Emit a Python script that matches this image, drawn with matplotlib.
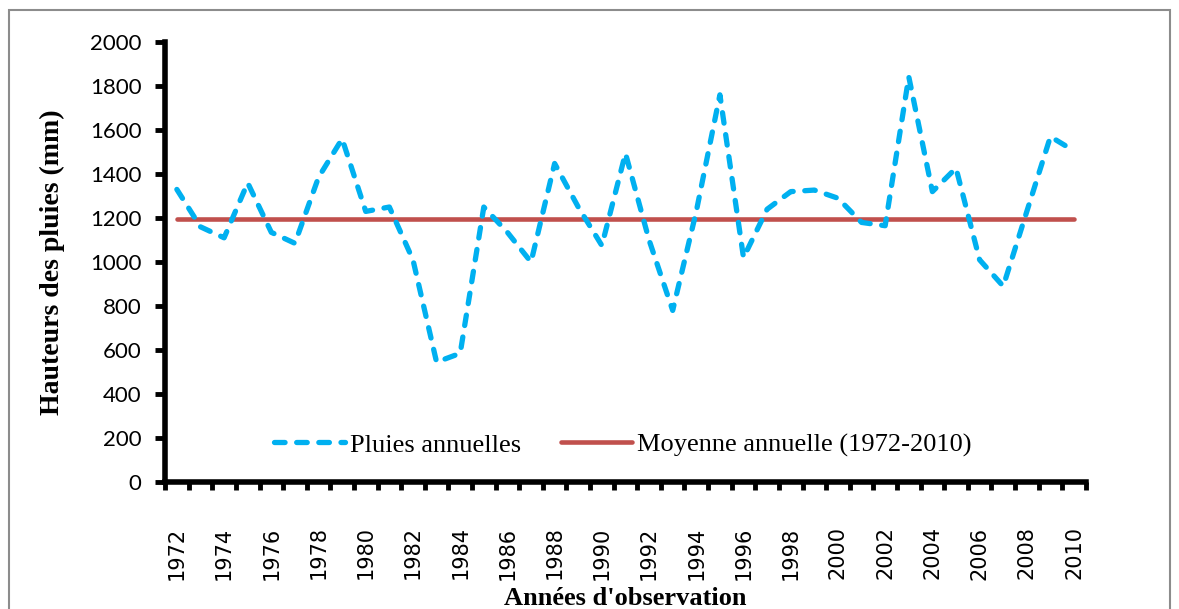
import matplotlib
matplotlib.use("Agg")
import matplotlib.pyplot as plt
import matplotlib.patheffects as pe
from matplotlib.patches import Rectangle
import numpy as np

# Data
years = list(range(1972, 2011))
pluies = [1330, 1160, 1110, 1360, 1135, 1085, 1385, 1560, 1230, 1250,
          1010, 545, 585, 1250, 1135, 1000, 1448, 1250, 1075, 1494,
          1100, 780, 1230, 1760, 1020, 1240, 1320, 1327, 1290, 1180,
          1165, 1842, 1320, 1427, 1010, 890, 1230, 1570, 1505]
moyenne = 1195
y_ticks = [0, 200, 400, 600, 800, 1000, 1200, 1400, 1600, 1800, 2000]

blue = '#00B0F0'
red = '#C0504D'

fig = plt.figure(figsize=(11.79, 6.09), dpi=100)
ax = fig.add_axes([0.14, 0.2085, 0.781, 0.7225])

x = np.arange(len(years))

ax.plot(x, pluies, color=blue, linewidth=3.8, linestyle=(0, (2.0, 2.2)),
        dash_capstyle='round', zorder=3, label='Pluies annuelles')
ax.plot(x, [moyenne] * len(x), color=red, linewidth=3.3,
        solid_capstyle='round', zorder=2, label='Moyenne annuelle (1972-2010)')

ax.set_xlim(-0.5, len(years) - 0.5)
ax.set_ylim(0, 2000)

# axes style
for s in ['top', 'right']:
    ax.spines[s].set_visible(False)
shadow = [pe.SimplePatchShadow(offset=(2, -2), alpha=0.35), pe.Normal()]
for s in ['left', 'bottom']:
    ax.spines[s].set_linewidth(4)
    ax.spines[s].set_color('black')
    ax.spines[s].set_path_effects(shadow)

ax.set_yticks(y_ticks)
ax.set_yticklabels([str(v) for v in y_ticks], fontfamily='Lato', fontsize=16)
ax.tick_params(axis='y', direction='out', length=7, width=3.5, pad=10)

ax.set_xticks(x[::2])
ax.set_xticklabels([str(v) for v in years[::2]], rotation=90,
                   fontfamily='DejaVu Sans', fontsize=15)
ax.set_xticks(np.arange(-0.5, len(years)), minor=True)
ax.tick_params(axis='x', which='major', length=0, pad=32)
ax.tick_params(axis='x', which='minor', direction='out', length=6, width=3.5)

ax.set_ylabel('Hauteurs des pluies (mm)', fontfamily='Liberation Serif',
              fontweight='bold', fontsize=20, labelpad=18)
ax.set_xlabel("Années d'observation", fontfamily='Liberation Serif',
              fontweight='bold', fontsize=19)
ax.xaxis.set_label_coords(0.5, -0.238)

ax.legend(loc='center', bbox_to_anchor=(0.497, 0.084), ncol=2, frameon=False,
          handlelength=2.7, columnspacing=1.5, handletextpad=0.2,
          prop={'family': 'Liberation Serif', 'size': 19})

# outer frame
fig.add_artist(Rectangle((9 / 1179, -0.02), 1161 / 1179, 1.02 - 10 / 609,
                         transform=fig.transFigure, fill=False,
                         edgecolor='#8c8c8c', linewidth=1.5))

fig.savefig('out.png', dpi=100)
